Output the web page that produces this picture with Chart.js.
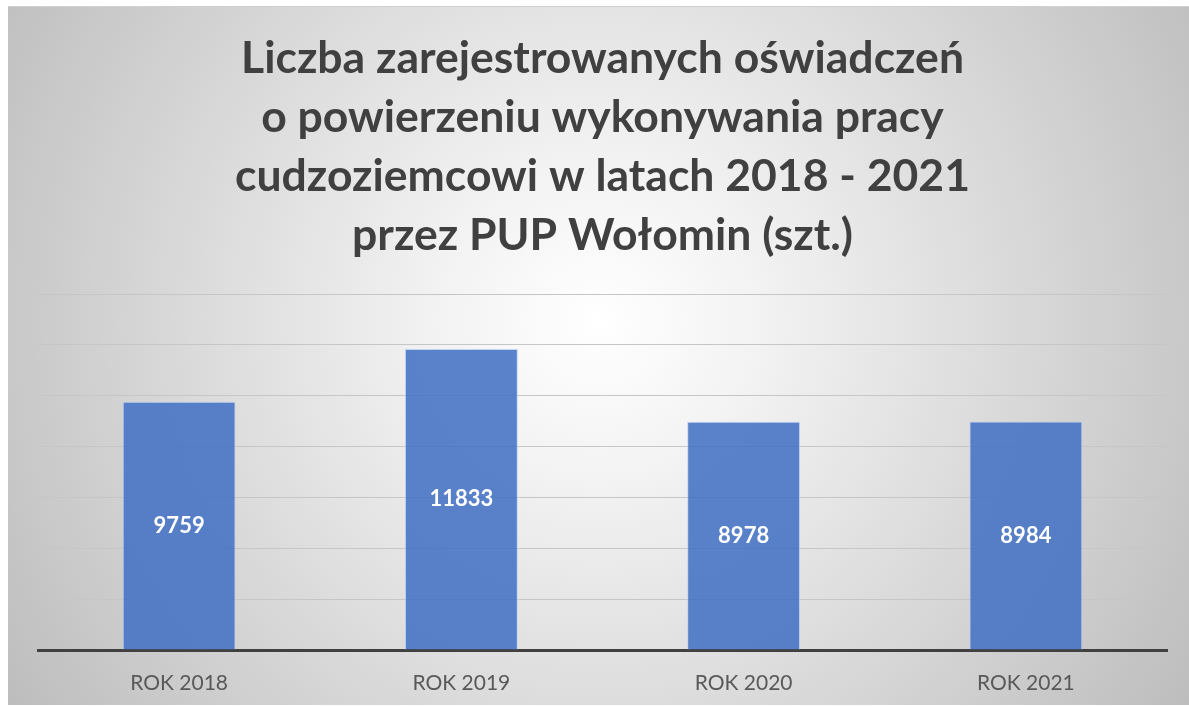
<!DOCTYPE html>
<html lang="pl">
<head>
<meta charset="UTF-8">
<title>PUP Wołomin</title>
<script src="https://cdn.jsdelivr.net/npm/chart.js@4.4.1/dist/chart.umd.min.js"></script>
<style>
  html, body { margin: 0; padding: 0; background: #ffffff; }
  #box {
    position: absolute; left: 8px; top: 6px; width: 1181px; height: 699px;
    background: radial-gradient(circle farthest-corner at 50% 45%, #ffffff 0%, #f3f3f3 22%, #bdbdbd 100%);
    border-top: 1px solid #d0d0d0;
    box-sizing: border-box;
  }
  #c { display: block; }
</style>
</head>
<body>
<div id="box"><canvas id="c" width="1181" height="698"></canvas></div>
<script>
    // dane
    const years = ['ROK 2018', 'ROK 2019', 'ROK 2020', 'ROK 2021'];
    const counts = [9759, 11833, 8978, 8984];
    const titleLines = [
        'Liczba zarejestrowanych oświadczeń',
        'o powierzeniu wykonywania pracy',
        'cudzoziemcowi w latach 2018 - 2021',
        'przez PUP Wołomin (szt.)'
    ];

    // etykiety wartości w środku słupka
    const barLabels = {
        id: 'barLabels',
        afterDatasetsDraw(chart) {
            const ctx = chart.ctx;
            ctx.save();
            ctx.fillStyle = '#ffffff';
            ctx.font = 'bold 22px Lato';
            ctx.textAlign = 'center';
            ctx.textBaseline = 'middle';
            chart.getDatasetMeta(0).data.forEach(function (bar, i) {
                ctx.fillText(counts[i], bar.x, (bar.y + bar.base) / 2);
            });
            ctx.restore();
        }
    };

    const ctx = document.getElementById('c').getContext('2d');
    new Chart(ctx, {
        type: 'bar',
        data: {
            labels: years,
            datasets: [{
                data: counts,
                backgroundColor: 'rgba(68,114,196,0.88)',
                borderColor: 'rgba(190,208,240,0.9)',
                borderWidth: 1,
                categoryPercentage: 1.0,
                barPercentage: 0.4
            }]
        },
        options: {
            responsive: false,
            animation: false,
            layout: { padding: { left: 30, right: 22, top: 0, bottom: 0 } },
            plugins: {
                legend: { display: false },
                tooltip: { enabled: false },
                title: {
                    display: true,
                    text: titleLines,
                    color: '#404040',
                    font: { family: 'Lato', size: 44.5, weight: 'bold', lineHeight: 59 / 44.5 },
                    padding: { top: 22, bottom: 29 }
                }
            },
            scales: {
                x: {
                    grid: { display: false, drawTicks: false },
                    border: { display: true, color: '#404040', width: 3 },
                    ticks: { color: '#595959', font: { family: 'Lato', size: 21 }, padding: 21 },
                    afterFit(scale) { scale.height = 55; }
                },
                y: {
                    min: 0, max: 14000,
                    ticks: { display: false, stepSize: 2000 },
                    grid: { color: '#c6c6c6', drawTicks: false },
                    border: { display: false },
                    afterFit(scale) { scale.width = 0; }
                }
            }
        },
        plugins: [barLabels]
    });
</script>
</body>
</html>
